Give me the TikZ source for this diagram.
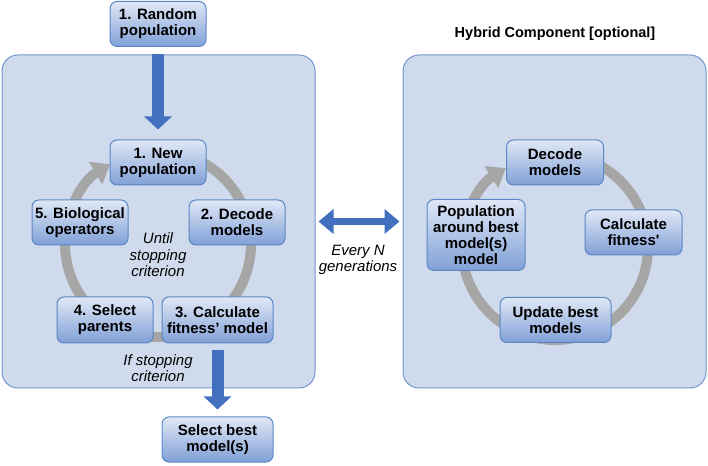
\documentclass[tikz,border=0pt]{standalone}
\usepackage{fontspec}
\setmainfont{Liberation Sans}
\usetikzlibrary{arrows.meta}

\definecolor{panelfill}{RGB}{207,219,236}
\definecolor{panelline}{RGB}{114,150,207}
\definecolor{boxtop}{RGB}{224,232,246}
\definecolor{boxbottom}{RGB}{128,160,215}
\definecolor{boxline}{RGB}{91,135,197}
\definecolor{arrowblue}{RGB}{66,112,190}
\definecolor{cyclegray}{RGB}{166,166,166}

\begin{document}
\begin{tikzpicture}[x=1pt,y=1pt,
	panel/.style={draw=panelline, fill=panelfill, line width=1pt, rounded corners=16pt, inner sep=0pt},
	box/.style={draw=boxline, line width=1pt, rounded corners=7pt, top color=boxtop, bottom color=boxbottom,
		align=center, inner sep=0pt, minimum height=45pt, font=\fontsize{15}{16}\selectfont\bfseries},
	note/.style={align=center, font=\fontsize{15}{16.5}\selectfont\itshape},
	bluearrow/.style={draw=arrowblue, line width=12pt, -{Triangle[width=27pt,length=13pt]}},
	twoway/.style={draw=arrowblue, line width=7.5pt, {Triangle[width=24pt,length=15pt]}-{Triangle[width=24pt,length=15pt]}},
	cycle/.style={draw=cyclegray, line width=10pt, -{Triangle[width=25pt,length=17pt]}}]

	\useasboundingbox (0,0) rectangle (708,465);

	% panels
	\node[panel, minimum width=313pt, minimum height=333pt] (lpanel) at (158.5,243.5) {};
	\node[panel, minimum width=303pt, minimum height=333pt] (rpanel) at (554.5,243.5) {};
	\node[font=\fontsize{14.5}{16}\selectfont\bfseries] (hybtitle) at (555,431) {Hybrid Component [optional]};

	% cycles
	\coordinate (lc) at (158,221);
	\coordinate (rc) at (555,218);
	\draw[cycle] ([shift={(90:93)}]lc) arc[start angle=90, end angle=-239, radius=93];
	\draw[cycle] ([shift={(90:93)}]rc) arc[start angle=90, end angle=-238, radius=93];

	% GA
	\node[box, minimum width=96pt] (random) at (158,441) {1. Random\\population};
	\node[box, minimum width=96pt] (newpop) at (158,302.5) {1. New\\population};
	\node[box, minimum width=96pt] (bioops) at (80,242.5) {5. Biological\\operators};
	\node[box, minimum width=96pt] (decode) at (237,242.5) {2. Decode\\models};
	\node[box, minimum width=96pt, minimum height=46pt] (parents) at (105,145) {4. Select\\parents};
	\node[box, minimum width=111pt, minimum height=46pt] (calcfit) at (217.5,145) {3. Calculate\\fitness’ model};
	\node[box, minimum width=111pt] (selbest) at (217.5,25.5) {Select best\\model(s)};

	\node[note] (until) at (158,210) {Until\\stopping\\criterion};
	\node[note] (ifstop) at (158,97) {If stopping\\criterion};

	% hybrid
	\node[box, minimum width=97pt] (hdecode) at (555,302.5) {Decode\\models};
	\node[box, minimum width=98pt, minimum height=71pt] (hpop) at (476,230) {Population\\around best\\model(s)\\model};
	\node[box, minimum width=97pt] (hfit) at (633.5,232.5) {Calculate\\fitness\textquotesingle};
	\node[box, minimum width=111pt] (hupdate) at (555.5,145) {Update best\\models};

	\node[note] (everyn) at (358,205) {Every \textit{N}\\generations};

	% arrows
	\coordinate (start) at (lpanel.north -| random.south);
	\draw[bluearrow, shorten >=10pt] (start) -- (newpop.north);
	\draw[bluearrow, shorten <=6.5pt, shorten >=7pt] (calcfit.south) -- (selbest.north);
	\draw[twoway, shorten <=3pt, shorten >=3pt] (lpanel.east) -- (rpanel.west);
\end{tikzpicture}
\end{document}
